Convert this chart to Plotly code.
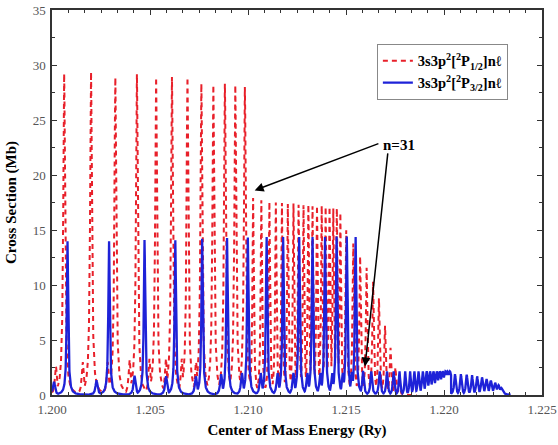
import numpy as np
import plotly.graph_objects as go

# ---- 3s3p2[2P1/2]nl series (red, dashed) ----
# tall resonances
red_main_E = [1.20062, 1.20199, 1.20323, 1.20433, 1.20531, 1.20612, 1.20691,
              1.20762, 1.20823, 1.20882, 1.20935, 1.20984]
red_main_H = [29.2, 29.4, 28.9, 29.2, 28.9, 28.9, 28.9, 28.3, 28.2, 28.3, 28.2, 28.0]
red_main_W = 5.5e-5
# small satellites on the low-energy side of the tall resonances
red_sat_E = [1.20020, 1.20157, 1.20284, 1.20396, 1.20497, 1.20581, 1.20662, 1.20735]
red_sat_H = [2.6, 3.0, 3.0, 3.2, 3.3, 3.3, 3.3, 3.0]
red_sat_W = 6e-5
# dense band starting at n=31
red_band_E = [1.21026, 1.21068, 1.21109, 1.21142, 1.21173, 1.21203, 1.21232, 1.21258,
              1.21283, 1.21308, 1.21329, 1.21352, 1.21376, 1.21396, 1.21416, 1.21435,
              1.21453, 1.21471]
red_band_H = [17.9, 17.7, 17.6, 17.5, 17.5, 17.4, 17.4, 17.3, 17.3, 17.3, 17.2, 17.2,
              17.2, 17.1, 17.1, 17.0, 17.0, 16.6]
red_band_W = 4e-5
# falling edge
red_tail_E = [1.21501, 1.21537, 1.21572, 1.21605, 1.21638, 1.21668, 1.21699, 1.21727,
              1.21752, 1.21772]
red_tail_H = [15.0, 13.8, 12.6, 11.6, 10.3, 8.8, 6.3, 4.3, 2.5, 1.0]
red_tail_W = 4.5e-5

# ---- 3s3p2[2P3/2]nl series (blue, solid) ----
blue_main_E = [1.20079, 1.20291, 1.20472, 1.20629, 1.20766, 1.20893, 1.20999, 1.21095,
               1.21179, 1.21261, 1.21329, 1.21393, 1.21452, 1.21504, 1.21549]
blue_main_H = [14.0, 14.0, 14.1, 14.1, 14.2, 14.3, 14.35, 14.4, 14.4, 14.4, 14.4,
               14.4, 14.4, 14.4, 14.4]
blue_main_W = 4.3e-5
blue_sat_E = [1.20010, 1.20227, 1.20421, 1.20582, 1.20734, 1.20863, 1.20969, 1.21065,
              1.21151, 1.21232, 1.21303, 1.21369, 1.21430, 1.21484, 1.21530]
blue_sat_H = [1.2, 1.35, 1.75, 1.7, 1.7, 1.9, 2.0, 2.0, 2.0, 2.0, 2.0, 2.0, 2.0, 2.0, 2.1]
blue_sat_W = 6e-5
# converging tail below the 1.2204 Ry threshold
blue_tail_E = [1.21587, 1.21629, 1.21672, 1.21709, 1.21743, 1.21773, 1.21802, 1.21827,
               1.21849, 1.21870, 1.21892, 1.21912, 1.21929, 1.21946, 1.21963, 1.21978,
               1.21993, 1.22007, 1.22018, 1.22030]
blue_tail_H = [2.2, 2.15, 2.15, 2.15, 2.15, 2.15, 2.15, 2.15, 2.15, 2.15, 2.15, 2.15,
               2.15, 2.15, 2.15, 2.15, 2.15, 2.15, 2.15, 2.15]
blue_tail_W = [5e-5, 5e-5, 5e-5, 4.5e-5, 4.5e-5, 4e-5, 4e-5, 4e-5, 4.5e-5, 5e-5,
               5.5e-5, 6.5e-5, 7e-5, 8e-5, 9e-5, 1e-4, 1.1e-4, 1.2e-4, 1.3e-4, 1.4e-4]
blue_threshold = 1.22036
# second group above the threshold
blue_end_E = [1.22056, 1.22086, 1.22116, 1.22143, 1.22169, 1.22194, 1.22217, 1.22239,
              1.22261, 1.22278, 1.22292]
blue_end_H = [1.9, 1.9, 1.85, 1.8, 1.7, 1.6, 1.45, 1.3, 1.1, 0.9, 0.65]
blue_end_W = [5e-5, 5e-5, 5e-5, 5e-5, 5.5e-5, 6e-5, 6.5e-5, 7e-5, 8e-5, 9e-5, 9e-5]

x_ticks = [1.200, 1.205, 1.210, 1.215, 1.220, 1.225]
y_ticks = [0, 5, 10, 15, 20, 25, 30, 35]


def profile(grid, centers, heights, widths):
    """Upper envelope of Lorentzian resonance profiles."""
    centers = np.asarray(centers)[:, None]
    heights = np.asarray(heights)[:, None]
    widths = np.broadcast_to(np.asarray(widths, dtype=float), centers.shape[:1])[:, None]
    return (heights / (1.0 + ((grid[None, :] - centers) / widths) ** 2)).max(axis=0)


e_red = np.arange(1.2, 1.2186, 4e-6)
s_red = np.maximum.reduce([
    profile(e_red, red_main_E, red_main_H, red_main_W),
    profile(e_red, red_sat_E, red_sat_H, red_sat_W),
    profile(e_red, red_band_E, red_band_H, red_band_W),
    profile(e_red, red_tail_E, red_tail_H, red_tail_W),
])

e_blue = np.arange(1.2, 1.2234, 4e-6)
s_low = np.maximum.reduce([
    profile(e_blue, blue_main_E, blue_main_H, blue_main_W),
    profile(e_blue, blue_sat_E, blue_sat_H, blue_sat_W),
    profile(e_blue, blue_tail_E, blue_tail_H, blue_tail_W),
])
s_high = profile(e_blue, blue_end_E, blue_end_H, blue_end_W)
s_blue = np.where(e_blue <= blue_threshold, s_low, s_high)

serif = "Liberation Serif"

fig = go.Figure()
fig.add_trace(go.Scatter(
    x=e_red, y=s_red, mode="lines",
    line=dict(color="#e8202a", width=2, dash="5px,4px"),
    name="<b>3s3p<sup>2</sup>[<sup>2</sup>P<sub>1/2</sub>]n\u2113</b>",
))
fig.add_trace(go.Scatter(
    x=e_blue, y=s_blue, mode="lines",
    line=dict(color="#1e22d8", width=2.3),
    name="<b>3s3p<sup>2</sup>[<sup>2</sup>P<sub>3/2</sub>]n\u2113</b>",
))

# n=31 label with two arrows
fig.add_annotation(x=1.21770, y=22.7, text="<b>n=31</b>", showarrow=False,
                   font=dict(family=serif, size=15, color="black"))
fig.add_annotation(x=1.21034, y=18.6, ax=1.21673, ay=22.9, axref="x", ayref="y",
                   text="", showarrow=True, arrowhead=2, arrowsize=1.2,
                   arrowwidth=1.5, arrowcolor="black")
fig.add_annotation(x=1.21597, y=2.6, ax=1.21714, ay=22.1, axref="x", ayref="y",
                   text="", showarrow=True, arrowhead=2, arrowsize=1.2,
                   arrowwidth=1.5, arrowcolor="black")

axis_common = dict(
    showline=True, linecolor="#333", linewidth=1.5, mirror="ticks",
    ticks="inside", ticklen=5, tickwidth=1.2, tickcolor="#333",
    showgrid=False, zeroline=False, automargin=False,
    ticklabeloverflow="allow",
    tickfont=dict(family=serif, size=13, color="#555"),
)

fig.update_xaxes(
    range=[1.2, 1.225], tickvals=x_ticks, tickformat=".3f",
    ticklabelstandoff=2,
    minor=dict(dtick=0.005 / 6, tick0=1.2, ticks="inside", ticklen=3,
               tickcolor="#333", tickwidth=1),
    title=dict(text="<b>Center of Mass Energy (Ry)</b>",
               font=dict(family=serif, size=15, color="black"), standoff=8),
    **axis_common,
)
fig.update_yaxes(
    range=[0, 35], tickvals=y_ticks,
    ticklabelstandoff=2,
    minor=dict(dtick=2.5, tick0=0, ticks="inside", ticklen=3,
               tickcolor="#333", tickwidth=1),
    title=dict(text="<b>Cross Section (Mb)</b>",
               font=dict(family=serif, size=15, color="black"), standoff=12),
    **axis_common,
)

fig.update_layout(
    width=558, height=445,
    margin=dict(l=52, r=16, t=10, b=50),
    plot_bgcolor="white", paper_bgcolor="white",
    showlegend=True,
    legend=dict(x=0.663, y=0.912, xanchor="left", yanchor="top",
                bgcolor="white", bordercolor="#888", borderwidth=1,
                font=dict(family=serif, size=14.5, color="black"),
                tracegroupgap=0),
)

fig.write_html("out.html")
